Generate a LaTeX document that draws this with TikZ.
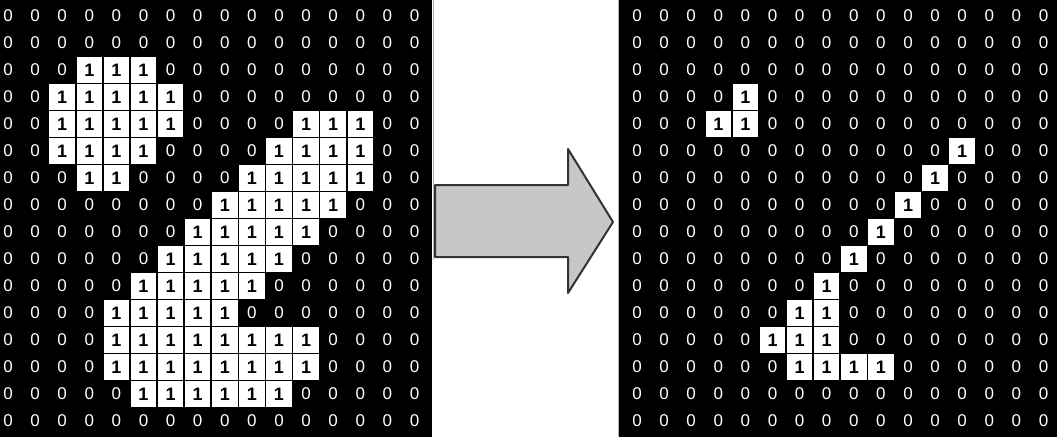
\documentclass[tikz,border=0pt]{standalone}
\usepackage{fontspec}
\setmainfont{Liberation Sans}
\begin{document}
\begin{tikzpicture}[x=1pt,y=-1pt,
   every node/.style={inner sep=0pt,font=\fontsize{17}{17}\selectfont},
   bit0/.style={text=white},
   bit1/.style={fill=white,text=black,minimum size=25.5pt,font=\fontsize{18}{18}\selectfont\bfseries},
   bigarrow/.style={line width=2pt,draw=black!80,fill=black!22,line join=round}]
  \useasboundingbox (0,0) rectangle (1057,437);
  \fill[white] (0,0) rectangle (1057,437);
  \fill (0,0) rectangle (432,437);
  \fill (619,0) rectangle (1057,437);
  \draw[black!30,line width=1pt] (433,0) -- (433,260) (618,0) -- (618,437);
  % input image
  \foreach \cells [count=\rw from 0] in {
     {0,0,0,0,0,0,0,0,0,0,0,0,0,0,0,0},
     {0,0,0,0,0,0,0,0,0,0,0,0,0,0,0,0},
     {0,0,0,1,1,1,0,0,0,0,0,0,0,0,0,0},
     {0,0,1,1,1,1,1,0,0,0,0,0,0,0,0,0},
     {0,0,1,1,1,1,1,0,0,0,0,1,1,1,0,0},
     {0,0,1,1,1,1,0,0,0,0,1,1,1,1,0,0},
     {0,0,0,1,1,0,0,0,0,1,1,1,1,1,0,0},
     {0,0,0,0,0,0,0,0,1,1,1,1,1,0,0,0},
     {0,0,0,0,0,0,0,1,1,1,1,1,0,0,0,0},
     {0,0,0,0,0,0,1,1,1,1,1,0,0,0,0,0},
     {0,0,0,0,0,1,1,1,1,1,0,0,0,0,0,0},
     {0,0,0,0,1,1,1,1,1,0,0,0,0,0,0,0},
     {0,0,0,0,1,1,1,1,1,1,1,1,0,0,0,0},
     {0,0,0,0,1,1,1,1,1,1,1,1,0,0,0,0},
     {0,0,0,0,0,1,1,1,1,1,1,0,0,0,0,0},
     {0,0,0,0,0,0,0,0,0,0,0,0,0,0,0,0}}
    \foreach \v [count=\cl from 0] in \cells
      \node[bit\v] (in-\rw-\cl) at (8+27.1*\cl,16+27*\rw) {\v};
  % thinned image
  \foreach \cells [count=\rw from 0] in {
     {0,0,0,0,0,0,0,0,0,0,0,0,0,0,0,0},
     {0,0,0,0,0,0,0,0,0,0,0,0,0,0,0,0},
     {0,0,0,0,0,0,0,0,0,0,0,0,0,0,0,0},
     {0,0,0,0,1,0,0,0,0,0,0,0,0,0,0,0},
     {0,0,0,1,1,0,0,0,0,0,0,0,0,0,0,0},
     {0,0,0,0,0,0,0,0,0,0,0,0,1,0,0,0},
     {0,0,0,0,0,0,0,0,0,0,0,1,0,0,0,0},
     {0,0,0,0,0,0,0,0,0,0,1,0,0,0,0,0},
     {0,0,0,0,0,0,0,0,0,1,0,0,0,0,0,0},
     {0,0,0,0,0,0,0,0,1,0,0,0,0,0,0,0},
     {0,0,0,0,0,0,0,1,0,0,0,0,0,0,0,0},
     {0,0,0,0,0,0,1,1,0,0,0,0,0,0,0,0},
     {0,0,0,0,0,1,1,1,0,0,0,0,0,0,0,0},
     {0,0,0,0,0,0,1,1,1,1,0,0,0,0,0,0},
     {0,0,0,0,0,0,0,0,0,0,0,0,0,0,0,0},
     {0,0,0,0,0,0,0,0,0,0,0,0,0,0,0,0}}
    \foreach \v [count=\cl from 0] in \cells
      \node[bit\v] (out-\rw-\cl) at (637+27.1*\cl,16+27*\rw) {\v};
  \draw[bigarrow] (435,185) -- (568,185) -- (568,149) -- (613,222)
     -- (568,293) -- (568,257) -- (435,257) -- cycle;
\end{tikzpicture}
\end{document}
